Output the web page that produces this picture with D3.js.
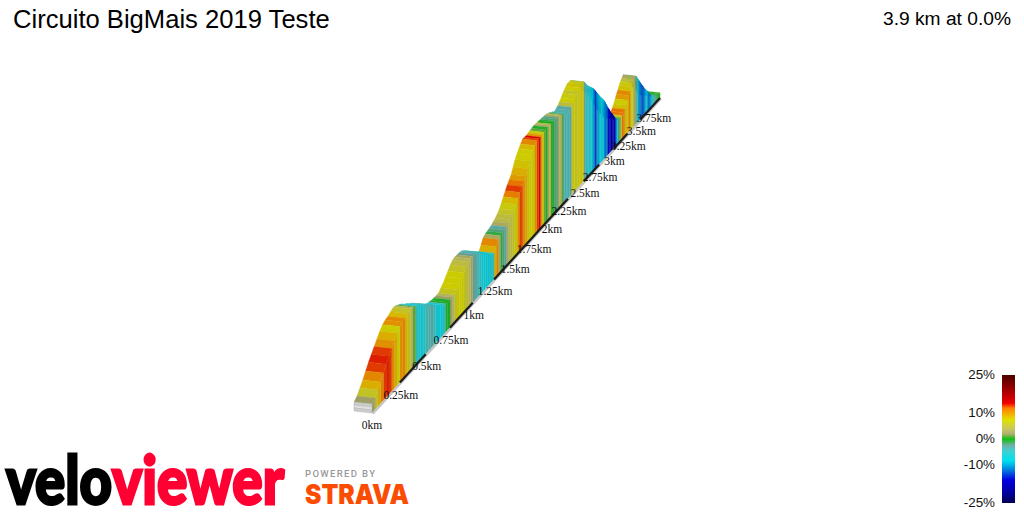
<!DOCTYPE html>
<html><head><meta charset="utf-8">
<script src="https://cdn.jsdelivr.net/npm/d3@7"></script>
<style>html,body{margin:0;padding:0;background:#fff;overflow:hidden}svg{display:block}</style>
</head><body><svg id="c" width="1024" height="512"></svg>
<script>
const title = "Circuito BigMais 2019 Teste";
const summary = "3.9 km at 0.0%";
const stepKm = 0.025;
const elevation = [9,12,17,22,28,34,39,44,49,54,58,60,61,63,65,64,62,60,57,55,52,50,47,44,41,38,35,33,32,31,31,31,31,34,37,41,45,49,52,53,53,53,52,50,47,44,41,38,35,33,31,36,42,44,45,46,47,49,51,54,57,62,67,72,77,81,85,92,99,104,108,112,116,116,116,117,118,119,120,120,120,120,120,120,120,120,119,118,116,115,113,115,117,120,123,127,130,133,135,135,135,131,126,123,120,117,114,110,105,101,96,92,88,84,79,73,67,62,56,52,47,42,38,35,33,34,35,37,40,44,49,54,58,63,67,70,73,70,65,60,55,50,46,41,37,33,30,25,20,17,15,13,11,10,9,8.5,8];
const gradient = [2,6,9,11,13,13.5,13,10.5,9,7.5,10.5,11,8.5,6,4,1,-5,-7.5,-7,-5.5,-4,-3.5,-3,-5,-7,-7.5,-8,-5,-0.5,-0.5,2,4,6.5,7.5,7.5,7.5,6,5,4,2.5,-2.5,-3.5,-4,-6,-7,-7.5,-7.5,-7.5,-6,-5,9,11,3,-1,-2,-3,3,4.5,5,6,7,8.5,11.5,13,12,10,9,8,7.5,7.5,8.5,11,13,14,10,7,1,-0.5,3,4,0,-1,-2,-2,3,4,1,-3,-4,-4,-3.5,-3,5,7.5,7,6,7.5,8,7,6,-3,-5,-6,-5.5,-8,-9,-12,-14,-11,-10,-9,-8,-9,-11,-12,-13,-16,-19,-20,-20,-17,-13,-9,-2,1,6,12,12,8,7.5,10,11,8,7,5,3,-2,-6,-10,-12,-13,-13,-12,-11,-9,-10,-12,-12,-10,-7,-4,-3,-1,-1,-0.5,0.5];
const tickKm = [0,0.25,0.5,0.75,1,1.25,1.5,1.75,2,2.25,2.5,2.75,3,3.25,3.5,3.75];
const tickLabels = ["0km","0.25km","0.5km","0.75km","1km","1.25km","1.5km","1.75km","2km","2.25km","2.5km","2.75km","3km","3.25km","3.5km","3.75km"];
const darkBands = [[0.25,0.5],[0.75,1],[1.25,2.25],[2.5,2.75],[3,3.25],[3.5,3.9]];
const legendPct = [25,17,14,12,9,7.5,4,2,0,-2.5,-4.5,-8.5,-11.5,-16,-21,-25];
const legendCol = ["#4a0000","#c00000","#f00000","#ff8000","#f0c000","#e0e000","#c8c860","#b0b070","#10c010","#70b0a8","#40d0d0","#00e0f0","#0090e0","#0000e0","#0000a0","#000050"];
const legendTicks = [25,10,0,-10,-25];

const svg = d3.select("#c");
const color = d3.scaleLinear().domain(legendPct).range(legendCol).clamp(true);
const elevPx = d3.scaleLinear().domain([0,140]).range([0,140]);
const shrink = d => 1/(1+0.1435*d);
const baseX = d => 372 + 115.2*d*shrink(d);
const baseY = d => 413 - 126*d*shrink(d);
const right = (d,e) => [baseX(d), baseY(d) - elevPx(e)*shrink(d)];
const left  = (d,e) => [baseX(d) - 18*shrink(d), baseY(d) - (2 + elevPx(e))*shrink(d)];
const line = d3.line();

const g = svg.append("g");
d3.range(gradient.length-1,-1,-1).forEach(i=>{
  const d0=i*stepKm, d1=Math.min((i+1)*stepKm,3.9), e0=elevation[i], e1=elevation[i+1];
  const c=color(gradient[i]);
  const tc=d3.color(c).darker(0.28).formatHex();
  const top=[left(d0,e0),left(d1,e1),right(d1,e1),right(d0,e0)];
  g.append("path").attr("d",line(top)+"Z").attr("fill",tc).attr("stroke",tc).attr("stroke-width",0.3);
  const wc=d3.color(c).darker(0.36).formatHex();
  const wall=[right(d0,e0),right(d1,e1),[baseX(d1),baseY(d1)],[baseX(d0),baseY(d0)]];
  g.append("path").attr("d",line(wall)+"Z").attr("fill",wc).attr("stroke",wc).attr("stroke-width",0.3);
});
const plate=[["#cccccc",9,6],["#e0e0e0",6,3],["#cccccc",3,0]];
plate.forEach(([c,a,b])=>{
  g.append("path").attr("d",line([left(0,a),right(0,a),right(0,b),left(0,b)])+"Z").attr("fill",c).attr("stroke","#aaa").attr("stroke-width",0.4);
});
const pts=(a,b)=>d3.range(0,11).map(k=>{const d=a+(b-a)*k/10;return [baseX(d)+0.7,baseY(d)+0.7];});
g.append("path").attr("d",line(pts(0,3.9))).attr("fill","none").attr("stroke","#c4c4c4").attr("stroke-width",2.4);
darkBands.forEach(([a,b])=>{
  const p=d3.range(0,11).map(k=>{const d=a+(b-a)*k/10;return [baseX(d),baseY(d)];});
  g.append("path").attr("d",line(p)).attr("fill","none").attr("stroke","#1c1c1c").attr("stroke-width",2.2);
});
svg.append("g").selectAll("text").data(tickKm).join("text")
  .attr("x",d=>baseX(d)+(d?1:0)).attr("y",d=>baseY(d)+16)
  .attr("text-anchor","middle").attr("font-family","Liberation Serif").attr("font-size",11.5).attr("fill","#111")
  .text((d,i)=>tickLabels[i]);

svg.append("text").attr("x",13).attr("y",28).attr("font-family","Liberation Sans").attr("font-size",25.6).attr("fill","#000").text(title);
svg.append("text").attr("x",1011).attr("y",25).attr("text-anchor","end").attr("font-family","Liberation Sans").attr("font-size",19.2).attr("fill","#000").text(summary);

const ly=d3.scaleLinear().domain([25,-25]).range([375,503]);
const defs=svg.append("defs");
const lg=defs.append("linearGradient").attr("id","lg").attr("x1",0).attr("x2",0).attr("y1",0).attr("y2",1);
legendPct.forEach((p,i)=>lg.append("stop").attr("offset",(25-p)/50).attr("stop-color",legendCol[i]));
svg.append("rect").attr("x",1002).attr("y",ly(25)).attr("width",13).attr("height",ly(-25)-ly(25)).attr("fill","url(#lg)");
svg.append("g").selectAll("text").data(legendTicks).join("text")
  .attr("x",995).attr("y",d=>ly(d)+4)
  .attr("text-anchor","end").attr("font-family","Liberation Sans").attr("font-size",13.4).attr("fill","#111")
  .text(d=>d+"%");

const logo=svg.append("g").attr("font-family","Lato").attr("font-weight",900).attr("font-size",66);
logo.append("text").attr("x",6).attr("y",503.5).attr("fill","#000").attr("stroke","#000").attr("stroke-width",2.8).attr("textLength",106).attr("lengthAdjust","spacingAndGlyphs").text("velo");
logo.append("text").attr("x",112).attr("y",503.5).attr("fill","#ff0033").attr("stroke","#ff0033").attr("stroke-width",2.8).attr("textLength",172).attr("lengthAdjust","spacingAndGlyphs").text("viewer");
svg.append("text").attr("x",305).attr("y",477).attr("font-family","Roboto").attr("font-weight",500).attr("font-size",9.5).attr("fill","#999").attr("textLength",70).text("POWERED BY");
svg.append("text").attr("x",305).attr("y",503.5).attr("font-family","Inter").attr("font-weight",900).attr("font-size",27).attr("fill","#fc4c02").attr("textLength",104).attr("lengthAdjust","spacingAndGlyphs").text("STRAVA");
</script></body></html>
